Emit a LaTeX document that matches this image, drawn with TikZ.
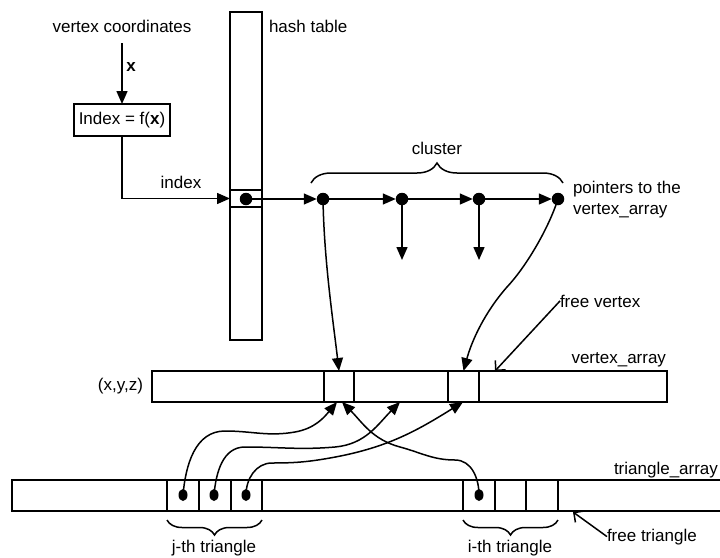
\documentclass[tikz,border=0pt]{standalone}
\usepackage{fontspec}
\setmainfont{Liberation Sans}
\usetikzlibrary{arrows.meta,decorations.pathreplacing,shapes.geometric}
\begin{document}
\begin{tikzpicture}[x=1pt,y=-1pt,
  every node/.style={font=\fontsize{17}{21}\selectfont, inner sep=0pt, outer sep=0pt},
  ln/.style={line width=1.5pt},
  arr/.style={ln,-{Triangle[length=13pt,width=11pt]}},
  barb/.style={ln,-{Straight Barb[length=7pt,width=14pt]}},
  dot/.style={circle,fill,minimum size=12.5pt,inner sep=0pt},
  edot/.style={ellipse,fill,minimum width=9pt,minimum height=12pt,inner sep=0pt},
  cellbox/.style={draw,ln,rectangle,inner sep=0pt,minimum height=31pt},
  bracestyle/.style={ln,decorate},
  thickdiv/.style={line width=2.6pt}]
\useasboundingbox (0,0) rectangle (720,557);
\clip (0,0) rectangle (720,557);

% top-left: coordinates and index function
\node (vc) at (122,26) {vertex coordinates};
\node[draw,ln,minimum width=96pt,minimum height=32pt] (idx) at (122,120) {Index = f(\textbf{x})};
\coordinate (vcb) at (122,43);
\draw[arr] (vcb) -- (idx.north);
\node (xl) at (131,67) {\textbf{x}};

% hash table
\node[draw,ln,minimum width=32pt,minimum height=328pt] (hash) at (246,176) {};
\node (hl) [anchor=west] at (269,26) {hash table};
\node[draw,ln,minimum width=32pt,minimum height=17pt] (hcell) at (246,198.5) {};
\node[dot] (hd) at (246,199) {};
\draw[arr] (idx.south) |- (hcell.west);
\node (il) at (181,182) {index};

% cluster
\node[dot] (c1) at (323,199) {};
\node[dot] (c2) at (402,199) {};
\node[dot] (c3) at (479,199) {};
\node[dot] (c4) at (558,199) {};
\draw[arr] (hd.center) -- (c1.west);
\draw[arr] (c1.center) -- (c2.west);
\draw[arr] (c2.center) -- (c3.west);
\draw[arr] (c3.center) -- (c4.west);
\coordinate (d2) at (402,260);
\coordinate (d3) at (479,260);
\draw[arr] (c2.center) -- (d2);
\draw[arr] (c3.center) -- (d3);
\draw[bracestyle,decoration={brace,amplitude=20pt}] (311,183) -- (563,183);
\node (cl) at (437,148) {cluster};
\node[anchor=west,align=left] (ptr) at (573,200) {pointers to the\\vertex\_array};

% vertex array
\node[cellbox,minimum width=515pt] (varr) at (409.5,386.5) {};
\node[cellbox,minimum width=30pt] (v1) at (339,386.5) {};
\node[cellbox,minimum width=31pt] (v2) at (463.5,386.5) {};
\node[anchor=east] (xyz) at (143,386) {(x,y,z)};
\node[anchor=base east] (val) at (666,363) {vertex\_array};
\node[anchor=base west] (fv) at (560,307) {free vertex};
\coordinate (fvtip) at (495,371);
\draw[barb] (fv.west) -- (fvtip);

\draw[arr] (c1.center) .. controls (324,260) and (333,320) .. (v1.north);
\draw[arr] (c4.center) .. controls (548,230) and (525,268) .. (507,287)
   .. controls (485,312) and (472,340) .. (v2.north);

% triangle array
\node[cellbox,minimum width=748pt] (tarr) at (386,495.5) {};
\node[cellbox,minimum width=32pt] (t1) at (183,495.5) {};
\node[cellbox,minimum width=32pt] (t2) at (215,495.5) {};
\node[cellbox,minimum width=31pt] (t3) at (246.5,495.5) {};
\node[cellbox,minimum width=32pt] (ti1) at (479,495.5) {};
\node[cellbox,minimum width=31pt] (ti2) at (510.5,495.5) {};
\node[cellbox,minimum width=32pt] (ti3) at (542,495.5) {};
\draw[thickdiv] (t1.north west) -- (t1.south west);
\draw[thickdiv] (t3.north east) -- (t3.south east);
\draw[thickdiv] (ti1.north west) -- (ti1.south west);
\draw[thickdiv] (ti3.north east) -- (ti3.south east);
\node[edot] (dA) at (183,495) {};
\node[edot] (dB) at (214,495) {};
\node[edot] (dC) at (246,495) {};
\node[edot] (dD) at (479,495) {};

\draw[arr] (dA.center) to[out=85,in=180] (225,431) to[out=0,in=190] (295,432)
   to[out=10,in=230] ([xshift=-2pt]v1.south);
\draw[arr] (dB.center) to[out=85,in=180] (245,447) to[out=0,in=185] (335,447)
   to[out=5,in=225] (400,402);
\draw[arr] (dC.center) to[out=90,in=180] (272,463) to[out=0,in=190] (330,458)
   to[out=10,in=212] (463,402);
\draw[arr] (dD.center) to[out=90,in=0] (455,460) to[out=180,in=-15] (400,447)
   to[out=165,in=-45] ([xshift=3pt]v1.south);

\node[anchor=base west] (tal) at (614,474) {triangle\_array};
\node[anchor=base west] (ft) at (607,541) {free triangle};
\coordinate (fttip) at (573,512);
\draw[barb] (ft.west) -- (fttip);

\draw[bracestyle,decoration={brace,amplitude=15pt}] (262,520) -- (167,520);
\draw[bracestyle,decoration={brace,amplitude=15pt}] (558,520) -- (463,520);
\node[anchor=base] (jl) at (214,552) {j-th triangle};
\node[anchor=base] (ilb) at (510,552) {i-th triangle};
\end{tikzpicture}
\end{document}
